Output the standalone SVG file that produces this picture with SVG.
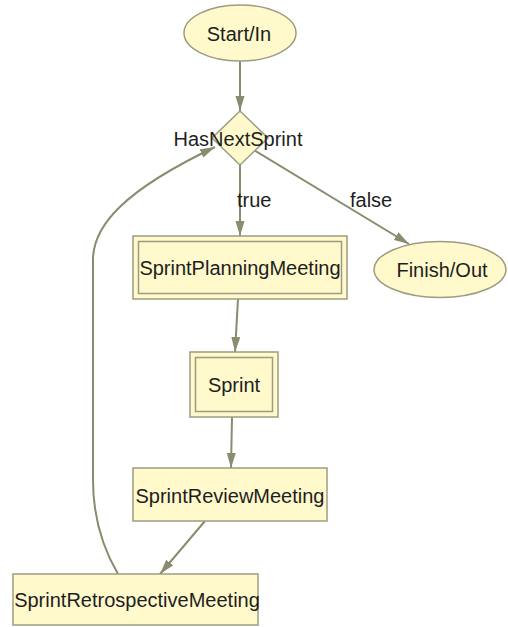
<svg xmlns="http://www.w3.org/2000/svg" width="508" height="627" viewBox="0 0 508 627">
<defs>
<marker id="arr" markerUnits="userSpaceOnUse" markerWidth="16" markerHeight="10" viewBox="0 0 16 10" refX="15" refY="5" orient="auto">
<path d="M0,0.5 L15,5 L0,9.5 z" fill="#8b8b6f"/>
</marker>
<style>
.n{fill:#fff9cc;stroke:#9c9c80;stroke-width:1.5}
.i{fill:none;stroke:#9c9c80;stroke-width:1.5}
.e{fill:none;stroke:#8b8b6f;stroke-width:2;marker-end:url(#arr)}
text{font-family:"Liberation Sans",Arial,sans-serif;font-size:20px;fill:#1e1e1e}
.c{text-anchor:middle}
</style>
</defs>
<rect width="508" height="627" fill="#ffffff"/>
<g id="edges">
<path class="e" d="M240,61 L240,111"/>
<path class="e" d="M240,165 L240,236"/>
<path class="e" d="M254,150 L409,244"/>
<path class="e" d="M238,299 L235,352"/>
<path class="e" d="M232,417 L231,468"/>
<path class="e" d="M205,521 L160,574"/>
<path class="e" d="M118,574 C98,540 93,505 93,480 L93,260 C93,225 125,190 215,147"/>
<text x="237" y="207">true</text>
<text x="350" y="207">false</text>
</g>
<g id="start">
<ellipse class="n" cx="240" cy="33" rx="56" ry="28"/>
<text class="c" x="239" y="40.5">Start/In</text>
</g>
<g id="hasNextSprint">
<polygon class="n" points="240,111 268,138 240,165 212,138"/>
<text class="c" x="238" y="146">HasNextSprint</text>
</g>
<g id="finish">
<ellipse class="n" cx="440" cy="269.5" rx="66" ry="28"/>
<text class="c" x="442" y="277">Finish/Out</text>
</g>
<g id="planning">
<rect class="n" x="133" y="236" width="214" height="63"/>
<rect class="i" x="138.5" y="241.5" width="203" height="52"/>
<text class="c" x="240" y="275">SprintPlanningMeeting</text>
</g>
<g id="sprint">
<rect class="n" x="190" y="352" width="88" height="65"/>
<rect class="i" x="195.5" y="357.5" width="77" height="54"/>
<text class="c" x="234" y="392">Sprint</text>
</g>
<g id="review">
<rect class="n" x="133" y="468" width="194" height="53"/>
<text class="c" x="230" y="503">SprintReviewMeeting</text>
</g>
<g id="retro">
<rect class="n" x="13" y="574" width="245" height="51"/>
<text class="c" x="137" y="607">SprintRetrospectiveMeeting</text>
</g>
</svg>
